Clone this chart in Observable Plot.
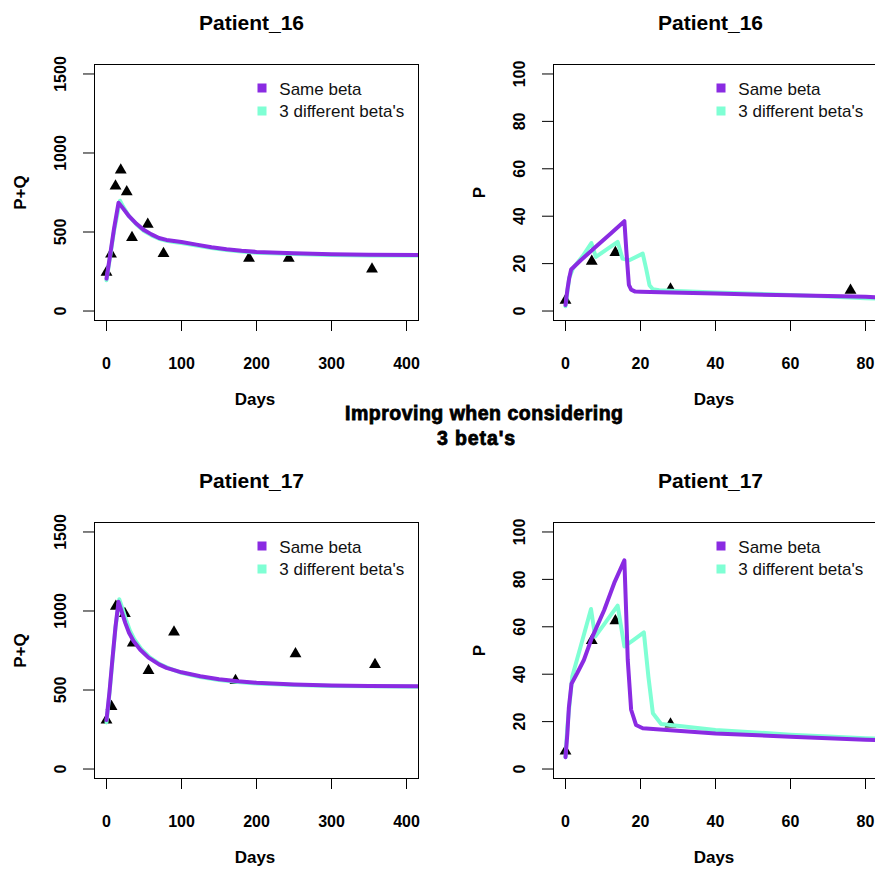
<!DOCTYPE html>
<html><head><meta charset="utf-8">
<script src="https://cdn.jsdelivr.net/npm/d3@7"></script>
<script src="https://cdn.jsdelivr.net/npm/@observablehq/plot@0.6"></script>
<style>
html,body{margin:0;padding:0;background:#fff;}
body{width:875px;height:873px;overflow:hidden;position:relative;}
.panel{position:absolute;width:458px;height:458px;}
.panel svg{max-width:none !important;width:458px;height:458px;}
#overlay{position:absolute;left:0;top:0;}
</style></head><body>
<div id="p1" class="panel" style="left:0px;top:0px"></div>
<div id="p2" class="panel" style="left:459px;top:0px"></div>
<div id="p3" class="panel" style="left:0px;top:458px"></div>
<div id="p4" class="panel" style="left:459px;top:458px"></div>
<svg id="overlay" width="875" height="873"></svg>
<script>
// ---------- texts ----------
const panelTitles = ["Patient_16", "Patient_16", "Patient_17", "Patient_17"];
const yAxisTitles = ["P+Q", "P", "P+Q", "P"];
const xAxisTitle = "Days";
const legendLabels = ["Same beta", "3 different beta's"];
const centerText = ["Improving when considering", "3 beta's"];

// ---------- tick values ----------
const ticksDaysLong = [0, 100, 200, 300, 400];
const ticksDaysShort = [0, 20, 40, 60, 80];
const ticksPQ = [0, 500, 1000, 1500];
const ticksP = [0, 20, 40, 60, 80, 100];

// ---------- Patient_16, P+Q ----------
const obs16Day = [0, 6, 12, 19, 27, 34, 55, 76, 190, 243, 354];
const obs16PQ = [245, 360, 790, 892, 754, 465, 548, 364, 334, 334, 266];
const same16Day = [0, 5, 10, 16, 20, 30, 40, 50, 60, 70, 80, 90, 100, 120, 140, 160, 180, 200, 250, 300, 350, 416];
const same16PQ = [205, 360, 520, 685, 662, 600, 552, 512, 485, 462, 450, 443, 437, 420, 404, 391, 381, 374, 365, 359, 356, 354];
const diff16Day = [0, 5, 10, 18, 22, 30, 40, 50, 60, 70, 80, 90, 100, 120, 140, 160, 180, 200, 250, 300, 350, 416];
const diff16PQ = [195, 350, 505, 698, 662, 600, 548, 506, 479, 457, 445, 437, 431, 414, 399, 386, 376, 369, 361, 355, 352, 351];

// ---------- Patient_16, P ----------
const obs16PDay = [0, 7, 13.3, 28, 76];
const obs16P = [4.5, 21, 24.7, 9.3, 8.7];
const same16PDay = [0, 0.5, 1, 1.5, 4, 8, 12, 15.7, 16.2, 16.9, 17.5, 18.6, 20, 28, 40, 50, 60, 70, 80, 83.3];
const same16P = [2.5, 9, 14, 17.5, 21.3, 27, 32.6, 37.9, 26, 11, 9, 8.2, 8.1, 7.8, 7.4, 7.0, 6.6, 6.3, 6.0, 5.7];
const diff16PDay = [0, 0.5, 1, 2, 4.5, 6.9, 8.1, 11, 13.9, 15.2, 17, 20.6, 21.5, 22.4, 23.3, 25, 28, 40, 60, 70, 80, 83.3];
const diff16P = [2, 8, 14, 18, 23, 28.7, 22.8, 26, 29.2, 22.1, 21.4, 24.2, 17.9, 10.9, 9.2, 8.8, 8.6, 7.8, 6.8, 6.1, 5.4, 5.3];

// ---------- Patient_17, P+Q ----------
const obs17Day = [0, 6.7, 12.5, 24.5, 35, 56, 90, 172, 252, 358];
const obs17PQ = [310, 395, 1029, 983, 797, 623, 866, 560, 729, 661];
const same17Day = [0, 4, 8, 12, 16, 20, 25, 30, 36, 45, 56, 70, 80, 100, 125, 150, 175, 200, 250, 300, 350, 416];
const same17PQ = [310, 490, 700, 900, 1058, 1000, 925, 862, 810, 755, 705, 662, 640, 612, 587, 568, 555, 546, 535, 529, 526, 524];
const diff17Day = [0, 4, 8, 12, 17, 21, 26, 31, 37, 46, 57, 71, 82, 100, 125, 150, 175, 200, 250, 300, 350, 416];
const diff17PQ = [295, 480, 690, 895, 1075, 1020, 945, 878, 822, 762, 710, 664, 640, 609, 582, 563, 550, 541, 531, 526, 523, 521];

// ---------- Patient_17, P ----------
const obs17PDay = [0, 7, 13.3, 28];
const obs17P = [7.6, 54.2, 62.5, 19];
const same17PDay = [0, 0.5, 0.9, 1.6, 3.1, 4.9, 7, 10.3, 13, 15.7, 16.2, 16.6, 17.5, 18.8, 20.6, 28, 40, 60, 80, 83.3];
const same17P = [5, 15, 26, 36, 40.4, 46, 55.2, 67, 78.5, 88, 65, 46, 25, 18.6, 17.2, 16.4, 15, 13.6, 12.3, 12.2];
const diff17PDay = [0, 0.5, 1.8, 4, 6.8, 7.9, 10, 13.9, 15.7, 18, 20.9, 22.1, 23.3, 25.5, 28, 40, 60, 80, 83.3];
const diff17P = [5, 17.9, 39, 51.5, 67.5, 55.9, 60.4, 68.9, 51.7, 54.3, 57.6, 39, 23.5, 19, 18.6, 16.5, 14.5, 13, 12.8];

// ---------- colours ----------
const colSame = "#8A2BE2";
const colDiff = "#7FFFD4";

const zip = (xs, ys) => xs.map((d, i) => ({day: d, v: ys[i]}));

const panels = [
  {el: "p1", xDomain: [-16, 416], yDomain: [-60, 1560], xTicks: ticksDaysLong, yTicks: ticksPQ,
   obs: zip(obs16Day, obs16PQ), same: zip(same16Day, same16PQ), diff: zip(diff16Day, diff16PQ)},
  {el: "p2", xDomain: [-3.2, 83.2], yDomain: [-4, 104], xTicks: ticksDaysShort, yTicks: ticksP,
   obs: zip(obs16PDay, obs16P), same: zip(same16PDay, same16P), diff: zip(diff16PDay, diff16P)},
  {el: "p3", xDomain: [-16, 416], yDomain: [-60, 1560], xTicks: ticksDaysLong, yTicks: ticksPQ,
   obs: zip(obs17Day, obs17PQ), same: zip(same17Day, same17PQ), diff: zip(diff17Day, diff17PQ)},
  {el: "p4", xDomain: [-3.2, 83.2], yDomain: [-4, 104], xTicks: ticksDaysShort, yTicks: ticksP,
   obs: zip(obs17PDay, obs17P), same: zip(same17PDay, same17P), diff: zip(diff17PDay, diff17P)}
];

const tickFont = "'Liberation Sans', Arial, sans-serif";

panels.forEach(cfg => {
  const chart = Plot.plot({
    width: 458, height: 458,
    marginLeft: 94, marginRight: 40, marginTop: 64, marginBottom: 138,
    x: {domain: cfg.xDomain},
    y: {domain: cfg.yDomain},
    style: {background: "transparent", overflow: "visible", fontFamily: tickFont, fontSize: "16px", fontWeight: "bold", color: "black", maxWidth: "none"},
    marks: [
      Plot.dot(cfg.obs, {x: "day", y: "v", symbol: "triangle", r: 4.4, fill: "black", stroke: "none"}),
      Plot.line(cfg.diff, {x: "day", y: "v", stroke: colDiff, strokeWidth: 4, clip: true}),
      Plot.line(cfg.same, {x: "day", y: "v", stroke: colSame, strokeWidth: 4, clip: true}),
      Plot.frame({stroke: "black"}),
      Plot.axisX({ticks: cfg.xTicks, tickSize: 11, tickPadding: 26, tickFormat: d => String(d), label: null}),
      Plot.axisY({ticks: cfg.yTicks, tickSize: 11, tickPadding: 17.5, tickRotate: -90, tickFormat: d => String(d), label: null})
    ]
  });
  document.getElementById(cfg.el).appendChild(chart);
});

// ---------- overlay texts ----------
const ov = d3.select("#overlay");
const offsets = [[0, 0], [459, 0], [0, 458], [459, 458]];
const sans = "'Liberation Sans', Arial, sans-serif";
offsets.forEach(([ox, oy], i) => {
  ov.append("text").attr("x", ox + 251.5).attr("y", oy + 29.5)
    .attr("text-anchor", "middle").attr("font-family", sans).attr("font-weight", "bold")
    .attr("font-size", 21).text(panelTitles[i]);
  ov.append("text").attr("x", ox + 255).attr("y", oy + 405)
    .attr("text-anchor", "middle").attr("font-family", sans).attr("font-weight", "bold")
    .attr("font-size", 17).text(xAxisTitle);
  ov.append("text").attr("transform", `translate(${ox + 25.5},${oy + 192.5}) rotate(-90)`)
    .attr("text-anchor", "middle").attr("font-family", sans).attr("font-weight", "bold")
    .attr("font-size", 17).text(yAxisTitles[i]);
  [colSame, colDiff].forEach((c, k) => {
    ov.append("rect").attr("x", ox + 257.5).attr("y", oy + 83.5 + k * 23).attr("width", 9).attr("height", 9).attr("fill", c);
    ov.append("text").attr("x", ox + 279.3).attr("y", oy + 95 + k * 22.3)
      .attr("font-family", sans).attr("font-size", 17).attr("fill", "#111").text(legendLabels[k]);
  });
});
ov.append("text").attr("x", 484).attr("y", 419.5).attr("text-anchor", "middle")
  .attr("font-family", sans).attr("font-weight", 900).attr("font-size", 19.5)
  .attr("stroke", "black").attr("stroke-width", 0.8).attr("textLength", 278).attr("lengthAdjust", "spacing")
  .text(centerText[0]);
ov.append("text").attr("x", 476).attr("y", 445).attr("text-anchor", "middle")
  .attr("font-family", sans).attr("font-weight", 900).attr("font-size", 19.5)
  .attr("stroke", "black").attr("stroke-width", 0.8).attr("textLength", 78).attr("lengthAdjust", "spacing")
  .text(centerText[1]);
</script>
</body></html>
